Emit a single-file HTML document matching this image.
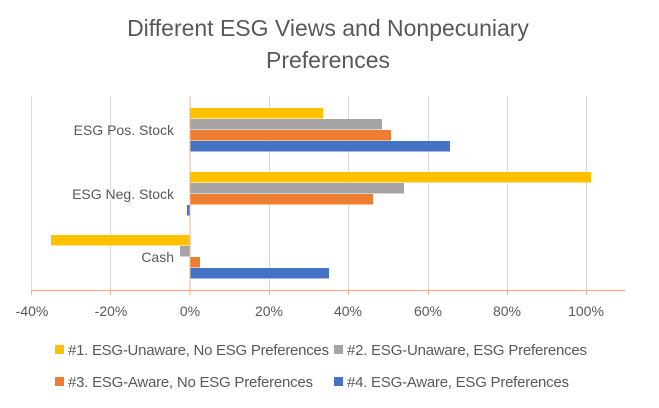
<!DOCTYPE html><html><head><style>body{margin:0;background:#fff}text{font-family:"Liberation Sans",sans-serif}</style></head><body>
<svg width="659" height="403" xmlns="http://www.w3.org/2000/svg">
<rect width="659" height="403" fill="#fff"/>
<text x="328" y="36" font-size="23" fill="#595959" text-anchor="middle">Different ESG Views and Nonpecuniary</text>
<text x="328" y="68" font-size="23" fill="#595959" text-anchor="middle">Preferences</text>
<g stroke="#d9d9d9" stroke-width="1">
<line x1="31.5" y1="96" x2="31.5" y2="290"/><line x1="110.5" y1="96" x2="110.5" y2="290"/><line x1="269.5" y1="96" x2="269.5" y2="290"/><line x1="348.5" y1="96" x2="348.5" y2="290"/><line x1="428.5" y1="96" x2="428.5" y2="290"/><line x1="507.5" y1="96" x2="507.5" y2="290"/><line x1="586.5" y1="96" x2="586.5" y2="290"/>
</g>
<rect x="190" y="108" width="133" height="10.5" fill="#ffc000"/>
<rect x="190" y="119" width="192" height="10.5" fill="#a5a5a5"/>
<rect x="190" y="130" width="201" height="10.5" fill="#ed7d31"/>
<rect x="190" y="141" width="260" height="10.5" fill="#4472c4"/>
<rect x="190" y="172" width="401" height="10.5" fill="#ffc000"/>
<rect x="190" y="183" width="214" height="10.5" fill="#a5a5a5"/>
<rect x="190" y="194" width="183" height="10.5" fill="#ed7d31"/>
<rect x="187" y="205" width="3" height="10.5" fill="#4472c4"/>
<rect x="51" y="235" width="139" height="10.5" fill="#ffc000"/>
<rect x="180" y="246" width="10" height="10.5" fill="#a5a5a5"/>
<rect x="190" y="257" width="10" height="10.5" fill="#ed7d31"/>
<rect x="190" y="268" width="139" height="10.5" fill="#4472c4"/>
<line x1="31" y1="290.5" x2="625" y2="290.5" stroke="#f4b183" stroke-width="1.3"/>
<g stroke="#f4b183"><line x1="31.5" y1="290" x2="31.5" y2="295"/><line x1="110.5" y1="290" x2="110.5" y2="295"/><line x1="190" y1="96" x2="190" y2="295"/><line x1="269.5" y1="290" x2="269.5" y2="295"/><line x1="348.5" y1="290" x2="348.5" y2="295"/><line x1="428.5" y1="290" x2="428.5" y2="295"/><line x1="507.5" y1="290" x2="507.5" y2="295"/><line x1="586.5" y1="290" x2="586.5" y2="295"/></g>
<g font-size="14" fill="#595959" text-anchor="end">
<text x="174" y="135">ESG Pos. Stock</text><text x="174" y="199">ESG Neg. Stock</text><text x="174" y="262">Cash</text></g>
<g font-size="14" fill="#595959" text-anchor="middle">
<text x="32" y="316">-40%</text><text x="111" y="316">-20%</text><text x="190" y="316">0%</text><text x="269" y="316">20%</text><text x="348" y="316">40%</text><text x="428" y="316">60%</text><text x="507" y="316">80%</text><text x="586" y="316">100%</text></g>
<g font-size="15" fill="#595959">
<rect x="55" y="345" width="9" height="9" fill="#ffc000"/><text x="68" y="355" textLength="261">#1. ESG-Unaware, No ESG Preferences</text>
<rect x="334" y="345" width="9" height="9" fill="#a5a5a5"/><text x="347" y="355" textLength="240">#2. ESG-Unaware, ESG Preferences</text>
<rect x="55" y="377" width="9" height="9" fill="#ed7d31"/><text x="68" y="387" textLength="245">#3. ESG-Aware, No ESG Preferences</text>
<rect x="334" y="377" width="9" height="9" fill="#4472c4"/><text x="347" y="387" textLength="222">#4. ESG-Aware, ESG Preferences</text>
</g>
</svg></body></html>
